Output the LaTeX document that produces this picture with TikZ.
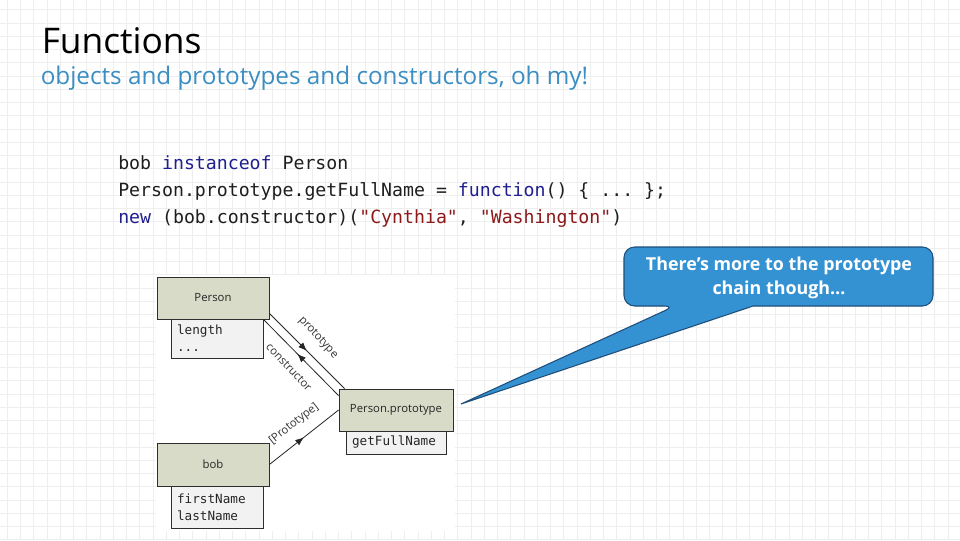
\documentclass[tikz,border=0pt]{standalone}
\usepackage{fontspec}
\setmainfont{Open Sans}
\setmonofont{DejaVu Sans Mono}
\usetikzlibrary{decorations.markings,arrows.meta}
\definecolor{gridc}{HTML}{EEEEEE}
\definecolor{hdr}{HTML}{D8DBC8}
\definecolor{bodyc}{HTML}{F2F2F2}
\definecolor{boxline}{HTML}{2E2E2E}
\definecolor{kw}{HTML}{1F1F8F}
\definecolor{strc}{HTML}{8B1A1A}
\definecolor{codec}{HTML}{1E1E1E}
\definecolor{subc}{HTML}{3B8EC2}
\definecolor{callfill}{HTML}{3592D2}
\definecolor{callline}{HTML}{1F4E7A}
\definecolor{lblc}{HTML}{333333}
\begin{document}
\begin{tikzpicture}[x=0.75pt,y=-0.75pt,
  gridline/.style={draw=gridc,line width=0.75pt},
  hdrbox/.style={draw=boxline,fill=hdr,line width=0.6pt,inner sep=0pt,font=\fontsize{8.5}{10}\selectfont,text=black!85},
  bodybox/.style={draw=boxline,fill=bodyc,line width=0.6pt,inner xsep=4.5pt,inner ysep=0pt,align=left,font=\ttfamily\fontsize{9.5}{12.75}\selectfont,text=black!85},
  code/.style={anchor=base west,inner sep=0pt,font=\ttfamily\fontsize{13.65}{16}\selectfont,text=codec},
  conn/.style={draw=black!85,line width=0.6pt},
  midarrow/.style={postaction={decorate},decoration={markings,mark=at position #1 with {\arrow{Latex[length=6.5pt,width=5pt]}}}},
  lbl/.style={inner sep=0pt,font=\fontsize{8.5}{10}\selectfont,text=lblc},
  callout/.style={draw=callline,fill=callfill,line width=0.8pt},
  notetext/.style={inner sep=0pt,align=center,text=white,font=\bfseries\fontsize{13.4}{18}\selectfont}
]
\useasboundingbox (0,0) rectangle (960,540);
\fill[white] (0,0) rectangle (960,540);
% grid
\foreach \i in {0,...,72} {\draw[gridline] ({7.3+13.25*\i},0) -- ({7.3+13.25*\i},540);}
\foreach \j in {0,...,40} {\draw[gridline] (0,{9.8+13.25*\j}) -- (960,{9.8+13.25*\j});}

% title
\node[anchor=base west,inner sep=0pt,font=\fontsize{26.5}{30}\selectfont] (title) at (41.5,53) {Functions};
\node[anchor=base west,inner sep=0pt,font=\fontsize{18.2}{22}\selectfont,text=subc] (subtitle) at (40.5,84) {objects and prototypes and constructors, oh my!};

% code
\node[code] (c1) at (118,169.5) {bob \textcolor{kw}{instanceof} Person};
\node[code] (c2) at (118,196.5) {Person.prototype.getFullName = \textcolor{kw}{function}() \{ ... \};};
\node[code] (c3) at (118,223.5) {\textcolor{kw}{new} (bob.constructor)(\textcolor{strc}{"Cynthia"}, \textcolor{strc}{"Washington"})};

% diagram image background
\fill[white] (156,275) rectangle (455,531);

% boxes
\node[bodybox,minimum width=92*0.75pt,minimum height=39*0.75pt,text width=80*0.75pt] (personB) at (217,338.5) {length\\...};
\node[hdrbox,minimum width=112*0.75pt,minimum height=42*0.75pt] (personH) at (213,298) {Person};
\node[bodybox,minimum width=100*0.75pt,minimum height=23*0.75pt,text width=88*0.75pt] (protoB) at (396,442.5) {getFullName};
\node[hdrbox,minimum width=114*0.75pt,minimum height=42*0.75pt] (protoH) at (396,410) {Person.prototype};
\node[bodybox,minimum width=92*0.75pt,minimum height=42*0.75pt,text width=80*0.75pt] (bobB) at (217,507) {firstName\\lastName};
\node[hdrbox,minimum width=112*0.75pt,minimum height=43*0.75pt] (bobH) at (213,464.5) {bob};

% connectors
\draw[conn,midarrow=0.5] ([yshift=6*0.75pt]personH.south east) -- ([xshift=6*0.75pt]protoH.north west);
\draw[conn,midarrow=0.55] ([yshift=-7*0.75pt]protoH.north west) -- ([xshift=-6*0.75pt]personH.south east);
\draw[conn,midarrow=0.5] (bobH.east) -- (protoH.west);

% connector labels
\node[lbl,rotate=-47] (lproto) at (318,338) {prototype};
\node[lbl,rotate=-47] (lcons) at (289,367) {constructor};
\node[lbl,rotate=38] (lbobp) at (294,424) {[Prototype]};

% callout
\node[notetext] (note) at (779,278) {There’s more to the prototype\\chain though…};
\coordinate (tip) at (461,404);
\draw[callout] (933,276) [rounded corners=8] -- (933,247) -- (624,247) -- (624,306) -- (675,306) [sharp corners] -- (tip) -- (753,306) [rounded corners=8] -- (933,306) -- cycle;
\node[notetext] at (note) {There’s more to the prototype\\chain though…};
\end{tikzpicture}
\end{document}
